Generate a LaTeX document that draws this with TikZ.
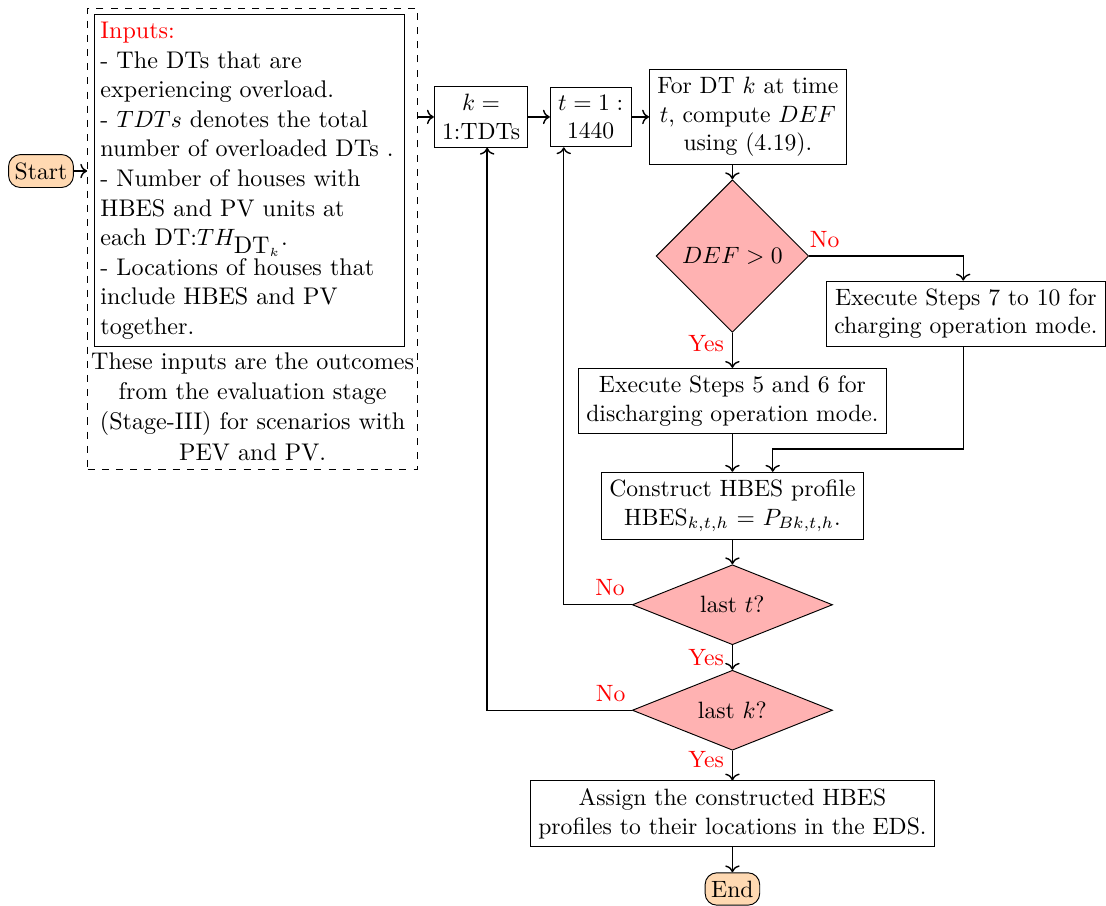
\documentclass[tikz,border=0pt]{standalone}
\usepackage{xcolor}
\usepackage{tikz}
\usetikzlibrary{
  arrows.meta, positioning, fit, calc, shapes.geometric
}
\usepackage{amsmath, amssymb}
\hyphenpenalty=10000
\exhyphenpenalty=10000

\begin{document}
\begin{tikzpicture}[
  every node/.style={align=center},
  box/.style={draw, fill=white, inner sep=3.33pt},
  side/.style={font=\fontsize{10.2}{12.5}\selectfont},
  term/.style={draw, rounded corners=5pt, fill=orange!30, inner xsep=2.6pt,
               minimum height=0.48cm},
  dec/.style={draw, diamond, fill=red!30, inner sep=0pt},
  lbl/.style={text=red},
  arr/.style={->, semithick},
]
  \useasboundingbox (0,0) rectangle (16.46,-13.47);

  \node[term] (start) at (0.61,-2.545) {Start};
  \node[box, side, text width=4.43cm, inner xsep=2.5pt, align=left, anchor=north] (inputs) at (3.71,-0.21)
    {{\color{red}Inputs:}\\- The DTs that are experiencing overload.\\
     - $TDTs$ denotes the total number of overloaded DTs .\\
     - Number of houses with HBES and PV units at each DT:$TH_{\mbox{DT}_k}$.\\
     - Locations of houses that include HBES and PV together.};
  \node[side, font=\fontsize{10.2}{12.8}\selectfont, inner sep=1pt, below=1pt of inputs, xshift=0.05cm] (note)
    {These inputs are the outcomes\\from the evaluation stage\\(Stage-III) for scenarios with\\PEV and PV.};
  \node[draw, dashed, fit=(inputs)(note), inner xsep=0.3pt, inner ysep=2.5pt] (frame) {};

  \node[box] (kbox) at (7.16,-1.74)  {$k=$\\1:TDTs};
  \node[box] (tbox) at (8.79,-1.74)  {$t=1:$\\1440};
  \node[box] (comp) at (11.13,-1.74) {For DT $k$ at time\\$t$, compute $DEF$\\using (4.19).};
  \node[dec, minimum size=2.27cm] (def) at (10.9,-3.81) {$DEF>0$};
  \node[box] (chg)  at (14.375,-4.67) {Execute Steps 7 to 10 for\\charging operation mode.};
  \node[box] (dis)  at (10.9,-5.97)  {Execute Steps 5 and 6 for\\discharging operation mode.};
  \node[box] (cons) at (10.9,-7.53)  {Construct HBES profile\\HBES$_{k,t,h}$ $=$ $P_{Bk,t,h}$.};
  \node[dec, aspect=2.5, minimum width=2.98cm, minimum height=1.19cm] (lastt) at (10.9,-9.0) {last $t$?};
  \node[dec, aspect=2.5, minimum width=2.98cm, minimum height=1.19cm] (lastk) at (10.9,-10.57) {last $k$?};
  \node[box] (asgn) at (10.9,-12.11) {Assign the constructed HBES\\profiles to their locations in the EDS.};
  \node[term] (end) at (10.9,-13.23) {End};

  \draw[arr] (start) -- (frame.west |- start);
  \draw[arr] (frame.east |- kbox) -- (kbox);
  \draw[arr] (kbox) -- (tbox);
  \draw[arr] (tbox) -- (comp);
  \draw[arr] (comp.south -| def.north) -- (def.north);
  \draw[arr] (def.east) -| node[lbl, above, pos=0.05] {No} ([xshift=-0.04cm]chg.north);
  \draw[arr] (def.south) -- node[lbl, left, pos=0.3] {Yes} (dis.north);
  \draw[arr] (dis) -- (cons);
  \coordinate (mrg) at ($(cons.north)+(0.6,0.34)$);
  \draw[arr] ([xshift=-0.04cm]chg.south) |- (mrg) -- (mrg |- cons.north);
  \draw[arr] (cons) -- (lastt);
  \draw[arr] (lastt.west) -| node[lbl, above, pos=0.16] {No} ([xshift=-0.4cm]tbox.south);
  \draw[arr] (lastt) -- node[lbl, left] {Yes} (lastk);
  \draw[arr] (lastk.west) -| node[lbl, above, pos=0.073] {No} ([xshift=0.09cm]kbox.south);
  \draw[arr] (lastk) -- node[lbl, left, pos=0.3] {Yes} (asgn);
  \draw[arr] (asgn) -- (end);
\end{tikzpicture}
\end{document}
